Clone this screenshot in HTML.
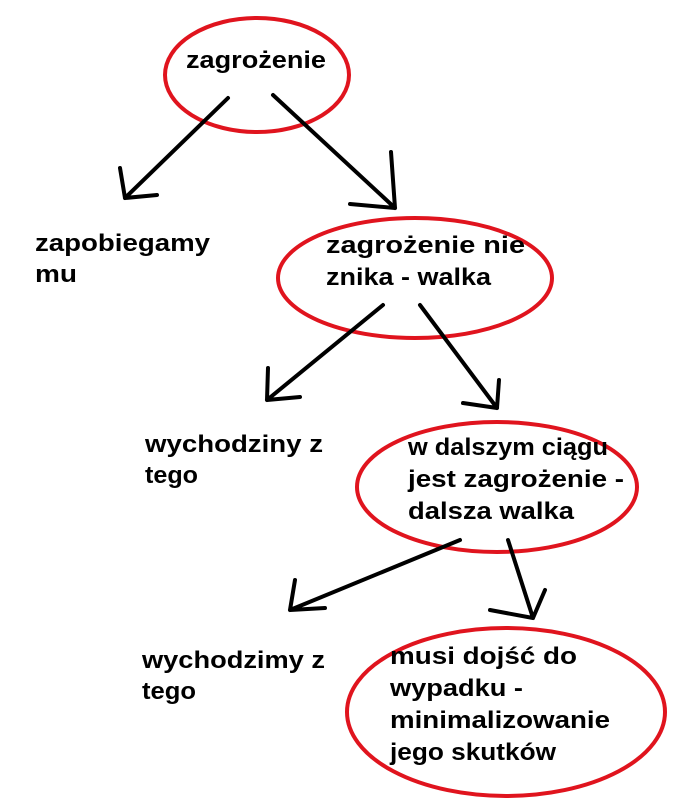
<!DOCTYPE html>
<html><head><meta charset="utf-8"><style>
body{margin:0;background:#fff}
svg text{font-family:"Liberation Sans",Arial,sans-serif;font-weight:bold;font-size:24px;fill:#000}
</style></head><body>
<svg width="692" height="800" xmlns="http://www.w3.org/2000/svg">
<g fill="none" stroke="#e0141e" stroke-width="4">
<ellipse cx="257" cy="75" rx="92" ry="57"/>
<ellipse cx="415" cy="278" rx="137" ry="60"/>
<ellipse cx="497" cy="487" rx="140" ry="65"/>
<ellipse cx="506" cy="712" rx="159" ry="84"/>
</g>
<g fill="none" stroke="#000" stroke-width="4" stroke-linecap="round">
<path d="M228 98 L125 198 M125 198 L120 168 M125 198 L157 195"/>
<path d="M273 95 L395 208 M395 208 L391 152 M395 208 L350 204"/>
<path d="M383 305 L267 400 M267 400 L268 368 M267 400 L300 397"/>
<path d="M420 305 L497 408 M497 408 L463 403 M497 408 L499 380"/>
<path d="M460 540 L290 610 M290 610 L295 580 M290 610 L325 608"/>
<path d="M508 540 L533 618 M533 618 L490 610 M533 618 L545 590"/>
</g>
<g lengthAdjust="spacingAndGlyphs">
<text x="186" y="68" textLength="140" lengthAdjust="spacingAndGlyphs">zagrożenie</text>
<text x="35" y="251" textLength="175" lengthAdjust="spacingAndGlyphs">zapobiegamy</text>
<text x="35" y="282" textLength="42" lengthAdjust="spacingAndGlyphs">mu</text>
<text x="326" y="253" textLength="199" lengthAdjust="spacingAndGlyphs">zagrożenie nie</text>
<text x="326" y="285" textLength="165" lengthAdjust="spacingAndGlyphs">znika - walka</text>
<text x="145" y="452" textLength="178" lengthAdjust="spacingAndGlyphs">wychodziny z</text>
<text x="145" y="483" textLength="53" lengthAdjust="spacingAndGlyphs">tego</text>
<text x="408" y="455" textLength="200" lengthAdjust="spacingAndGlyphs">w dalszym ciągu</text>
<text x="408" y="487" textLength="216" lengthAdjust="spacingAndGlyphs">jest zagrożenie -</text>
<text x="408" y="519" textLength="166" lengthAdjust="spacingAndGlyphs">dalsza walka</text>
<text x="142" y="668" textLength="183" lengthAdjust="spacingAndGlyphs">wychodzimy z</text>
<text x="142" y="699" textLength="54" lengthAdjust="spacingAndGlyphs">tego</text>
<text x="390" y="664" textLength="187" lengthAdjust="spacingAndGlyphs">musi dojść do</text>
<text x="390" y="696" textLength="133" lengthAdjust="spacingAndGlyphs">wypadku -</text>
<text x="390" y="728" textLength="220" lengthAdjust="spacingAndGlyphs">minimalizowanie</text>
<text x="390" y="760" textLength="166" lengthAdjust="spacingAndGlyphs">jego skutków</text>
</g>
</svg>
</body></html>
